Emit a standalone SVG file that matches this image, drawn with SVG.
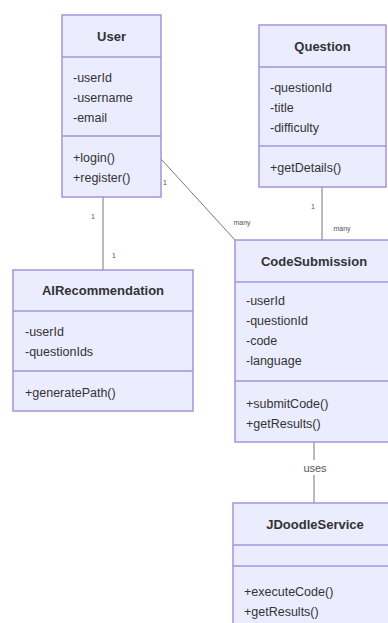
<svg xmlns="http://www.w3.org/2000/svg" width="388" height="623" viewBox="0 0 388 623">
<style>
.box{fill:#ECECFF;stroke:#A394D8;stroke-width:1.5}
.sep{stroke:#A394D8;stroke-width:1.5}
.title{font-family:"Liberation Sans",Arial,sans-serif;font-size:13px;font-weight:bold;fill:#333;text-anchor:middle}
.mem{font-family:"Liberation Sans",Arial,sans-serif;font-size:12.5px;fill:#333}
.edge{stroke:#777;stroke-width:1;fill:none}
.card{font-family:"Liberation Sans",Arial,sans-serif;font-size:7px;fill:#555;text-anchor:middle}
.lbl{font-family:"Liberation Sans",Arial,sans-serif;font-size:11px;fill:#555;text-anchor:middle}
</style>
<rect width="388" height="623" fill="#fff"/>
<g id="connectors">
<line class="edge" x1="103" y1="197" x2="103" y2="270"/>
<text class="card" x="93" y="219">1</text>
<text class="card" x="114" y="258">1</text>
<line class="edge" x1="161" y1="159" x2="235" y2="240"/>
<text class="card" x="165" y="185">1</text>
<text class="card" x="242" y="225">many</text>
<line class="edge" x1="322" y1="187" x2="322" y2="240"/>
<text class="card" x="313" y="209">1</text>
<text class="card" x="342" y="231">many</text>
<line class="edge" x1="314" y1="442" x2="314" y2="503"/>
<rect x="302" y="460" width="25" height="15" fill="#fff"/>
<text class="lbl" x="315" y="472">uses</text>
</g>
<g id="User">
<rect class="box" x="62" y="15" width="99" height="182"/>
<line class="sep" x1="62" y1="57" x2="161" y2="57"/>
<line class="sep" x1="62" y1="136" x2="161" y2="136"/>
<text class="title" x="111.5" y="40.5">User</text>
<text class="mem" x="73" y="81.5">-userId</text>
<text class="mem" x="73" y="101.5">-username</text>
<text class="mem" x="73" y="121.5">-email</text>
<text class="mem" x="73" y="161.5">+login()</text>
<text class="mem" x="73" y="181.5">+register()</text>
</g>
<g id="Question">
<rect class="box" x="259" y="25" width="127" height="162"/>
<line class="sep" x1="259" y1="67" x2="386" y2="67"/>
<line class="sep" x1="259" y1="146" x2="386" y2="146"/>
<text class="title" x="322.5" y="50.5">Question</text>
<text class="mem" x="270" y="91.5">-questionId</text>
<text class="mem" x="270" y="111.5">-title</text>
<text class="mem" x="270" y="131.5">-difficulty</text>
<text class="mem" x="270" y="171.5">+getDetails()</text>
</g>
<g id="AIRecommendation">
<rect class="box" x="13" y="270" width="180" height="141"/>
<line class="sep" x1="13" y1="311" x2="193" y2="311"/>
<line class="sep" x1="13" y1="371" x2="193" y2="371"/>
<text class="title" x="103" y="294.5">AIRecommendation</text>
<text class="mem" x="25" y="335.5">-userId</text>
<text class="mem" x="25" y="355.5">-questionIds</text>
<text class="mem" x="25" y="396.5">+generatePath()</text>
</g>
<g id="CodeSubmission">
<rect class="box" x="235" y="240" width="158" height="202"/>
<line class="sep" x1="235" y1="282" x2="393" y2="282"/>
<line class="sep" x1="235" y1="381" x2="393" y2="381"/>
<text class="title" x="314" y="265.5">CodeSubmission</text>
<text class="mem" x="246" y="304.5">-userId</text>
<text class="mem" x="246" y="324.5">-questionId</text>
<text class="mem" x="246" y="344.5">-code</text>
<text class="mem" x="246" y="364.5">-language</text>
<text class="mem" x="246" y="407.5">+submitCode()</text>
<text class="mem" x="246" y="427.5">+getResults()</text>
</g>
<g id="JDoodleService">
<rect class="box" x="233" y="503" width="164" height="140"/>
<line class="sep" x1="233" y1="545" x2="397" y2="545"/>
<line class="sep" x1="233" y1="566" x2="397" y2="566"/>
<text class="title" x="315" y="528.5">JDoodleService</text>
<text class="mem" x="244" y="595.5">+executeCode()</text>
<text class="mem" x="244" y="615.5">+getResults()</text>
</g>
</svg>
